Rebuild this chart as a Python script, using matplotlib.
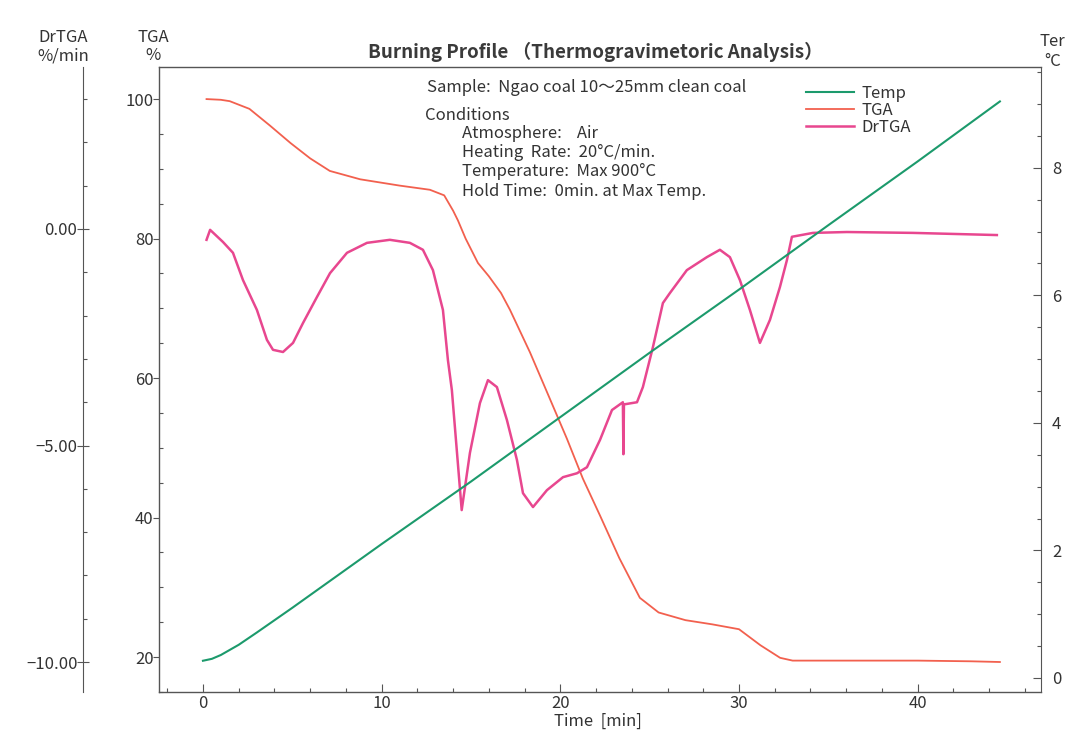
import matplotlib
matplotlib.use("Agg")
import matplotlib.pyplot as plt

plt.rcParams["font.family"] = ["Noto Sans CJK JP", "DejaVu Sans"]

# =====================================================
# DATA
# =====================================================

# Temperature (x100 degC) vs time
temp_time = [0, 0.5, 1, 2, 3, 5, 10, 15, 19.7, 25, 30.2, 35, 40, 44.6]
temp_vals = [0.27, 0.30, 0.36, 0.52, 0.71, 1.1, 2.1, 3.08, 4.03, 5.1, 6.13, 7.1, 8.1, 9.04]

# TGA (%) vs time
tga_time = [0.2, 1.0, 1.5, 2.6, 3.75, 4.9, 6.0, 7.1, 8.8, 11.0, 12.7, 13.5,
            14.0, 14.27, 14.7, 15.39, 16.0, 16.68, 17.18, 18.3, 19.42, 20.37,
            21.26, 22.22, 23.3, 24.45, 25.5, 27.0, 28.5, 30.0, 31.2, 32.3,
            33.0, 36.0, 40.0, 43.0, 44.6]
tga_vals = [100.0, 99.9, 99.7, 98.6, 96.2, 93.7, 91.5, 89.7, 88.5, 87.6, 87.0, 86.2,
            84.0, 82.6, 80.0, 76.5, 74.6, 72.2, 69.8, 63.7, 57.0, 51.3,
            45.6, 40.3, 34.2, 28.5, 26.4, 25.3, 24.7, 24.0, 21.7, 19.9,
            19.5, 19.5, 19.5, 19.4, 19.3]

# DrTGA (%/min) vs time
dr_time = [0.2, 0.4, 1.12, 1.68, 2.24, 3.02, 3.58, 3.92, 4.48, 5.04, 5.6, 6.38,
           7.11, 8.06, 9.18, 10.46, 11.58, 12.31, 12.87, 13.43, 13.71, 13.93,
           14.48, 14.94, 15.5, 15.95, 16.45, 17.01, 17.57, 17.91, 18.47, 19.25,
           20.15, 20.93, 21.49, 22.22, 22.89, 23.5, 23.53, 23.56, 24.29, 24.62,
           25.18, 25.74, 26.13, 27.08, 28.2, 28.93, 29.49, 30.05, 30.61, 31.17,
           31.73, 32.29, 32.68, 32.96, 34.14, 36.04, 39.73, 44.43]
dr_vals = [-0.25, -0.02, -0.30, -0.55, -1.18, -1.87, -2.56, -2.79, -2.84, -2.63, -2.17, -1.57,
           -1.02, -0.55, -0.32, -0.25, -0.32, -0.48, -0.95, -1.87, -3.03, -3.72,
           -6.49, -5.17, -4.02, -3.49, -3.65, -4.41, -5.33, -6.10, -6.42, -6.03,
           -5.73, -5.64, -5.50, -4.87, -4.18, -4.00, -5.20, -4.05, -4.00, -3.65,
           -2.73, -1.71, -1.48, -0.95, -0.65, -0.48, -0.65, -1.18, -1.87, -2.63,
           -2.10, -1.34, -0.72, -0.18, -0.09, -0.07, -0.09, -0.14]

x_ticks = [0, 10, 20, 30, 40]
tga_ticks = [20, 40, 60, 80, 100]
dr_ticks = [0.0, -5.0, -10.0]
dr_tick_labels = ["0.00", "\u22125.00", "\u221210.00"]
temp_ticks = [0, 2, 4, 6, 8]

title = "Burning Profile \uff08Thermogravimetoric Analysis\uff09"
info_lines = [
    "Sample:  Ngao coal 10\u301c25mm clean coal",
    "Conditions",
    "Atmosphere:    Air",
    "Heating  Rate:  20\u00b0C/min.",
    "Temperature:  Max 900\u00b0C",
    "Hold Time:  0min. at Max Temp.",
]

# =====================================================
# FIGURE
# =====================================================

W, H = 1079, 747
fig = plt.figure(figsize=(W / 100, H / 100), dpi=100)
fig.patch.set_facecolor("white")

left_px, right_px, top_px, bot_px = 159, 1041, 67, 692
ax = fig.add_axes([left_px / W, 1 - bot_px / H,
                   (right_px - left_px) / W, (bot_px - top_px) / H])
ax_dr = ax.twinx()
ax_t = ax.twinx()

c_temp = "#1c9a6c"
c_tga = "#f2604e"
c_dr = "#e8478f"
spine_c = "#555555"
txt_c = "#333333"

l_temp, = ax_t.plot(temp_time, temp_vals, color=c_temp, lw=1.5, label="Temp")
l_tga, = ax.plot(tga_time, tga_vals, color=c_tga, lw=1.3, label="TGA")
l_dr, = ax_dr.plot(dr_time, dr_vals, color=c_dr, lw=1.8, label="DrTGA")

xmin, xmax = -2.46, 46.9
ax.set_xlim(xmin, xmax)
ax.set_ylim(15.3, 104.6)
ax_dr.set_ylim(-10.69, 3.74)
ax_t.set_ylim(-0.22, 9.58)

# main (TGA) axis
ax.set_xticks(x_ticks)
ax.set_xticks(range(-2, 47, 2), minor=True)
ax.set_yticks(tga_ticks)
ax.set_yticks(range(15, 105, 5), minor=True)
ax.tick_params(axis="x", direction="in", length=6, width=0.8,
               colors=spine_c, labelcolor=txt_c, labelsize=12, pad=2)
ax.tick_params(axis="x", which="minor", direction="in", length=3, width=0.8, colors=spine_c)
ax.tick_params(axis="y", direction="out", length=4, width=0.8,
               colors=spine_c, labelcolor=txt_c, labelsize=12, pad=0)
ax.tick_params(axis="y", which="minor", direction="in", length=3, width=0.8, colors=spine_c)
for s in ["top", "bottom", "left"]:
    ax.spines[s].set_color(spine_c)
    ax.spines[s].set_linewidth(1.0)
ax.spines["right"].set_visible(False)

# DrTGA axis on far left
ax_dr.yaxis.set_ticks_position("left")
ax_dr.yaxis.set_label_position("left")
ax_dr.spines["left"].set_position(("outward", 76 * 0.72))
ax_dr.spines["left"].set_color(spine_c)
for s in ["right", "top", "bottom"]:
    ax_dr.spines[s].set_visible(False)
ax_dr.set_yticks(dr_ticks)
ax_dr.set_yticks([v for v in range(-10, 4)], minor=True)
ax_dr.set_yticklabels(dr_tick_labels)
ax_dr.tick_params(axis="y", direction="inout", length=8, width=0.8,
                  colors=spine_c, labelcolor=txt_c, labelsize=12, pad=0)
ax_dr.tick_params(axis="y", which="minor", direction="in", length=3, width=0.8, colors=spine_c)

# Temperature axis on right
for s in ["left", "top", "bottom"]:
    ax_t.spines[s].set_visible(False)
ax_t.spines["right"].set_color(spine_c)
ax_t.set_yticks(temp_ticks)
ax_t.set_yticks([v * 0.5 for v in range(0, 20)], minor=True)
ax_t.tick_params(axis="y", direction="in", length=6, width=0.8,
                 colors=spine_c, labelcolor=txt_c, labelsize=12, pad=8)
ax_t.tick_params(axis="y", which="minor", direction="in", length=3, width=0.8, colors=spine_c)

# =====================================================
# TEXT
# =====================================================

def fx(px):
    return px / W


def fy(py):
    return 1 - py / H


fig.text(fx(595), fy(52), title, ha="center", va="center",
         fontsize=13.5, fontweight="bold", color="#3a3a3a")

fig.text(fx(63), fy(38), "DrTGA", ha="center", va="center", fontsize=12, color=txt_c)
fig.text(fx(63), fy(56), "%/min", ha="center", va="center", fontsize=12, color=txt_c)
fig.text(fx(153), fy(38), "TGA", ha="center", va="center", fontsize=12, color=txt_c)
fig.text(fx(153), fy(56), "%", ha="center", va="center", fontsize=12, color=txt_c)
fig.text(fx(1040), fy(42), "Ter", ha="left", va="center", fontsize=12, color=txt_c)
fig.text(fx(1044), fy(61), "\u00b0C", ha="left", va="center", fontsize=12, color=txt_c)
fig.text(fx(598), fy(721), "Time  [min]", ha="center", va="center", fontsize=12, color=txt_c)

info_pos = [(427, 88), (425, 115), (462, 133), (462, 152), (462, 171), (462, 191)]
for line, (px, py) in zip(info_lines, info_pos):
    fig.text(fx(px), fy(py), line, ha="left", va="center", fontsize=12, color=txt_c)

# =====================================================
# LEGEND
# =====================================================

leg = fig.legend(
    handles=[l_temp, l_tga, l_dr],
    loc="upper left",
    bbox_to_anchor=(fx(806), fy(85)),
    frameon=False,
    fontsize=12,
    handlelength=2.9,
    handletextpad=0.45,
    labelspacing=0.0,
    borderpad=0,
    borderaxespad=0,
)
for t in leg.get_texts():
    t.set_color(txt_c)

fig.savefig("out.png", dpi=100, facecolor="white")
